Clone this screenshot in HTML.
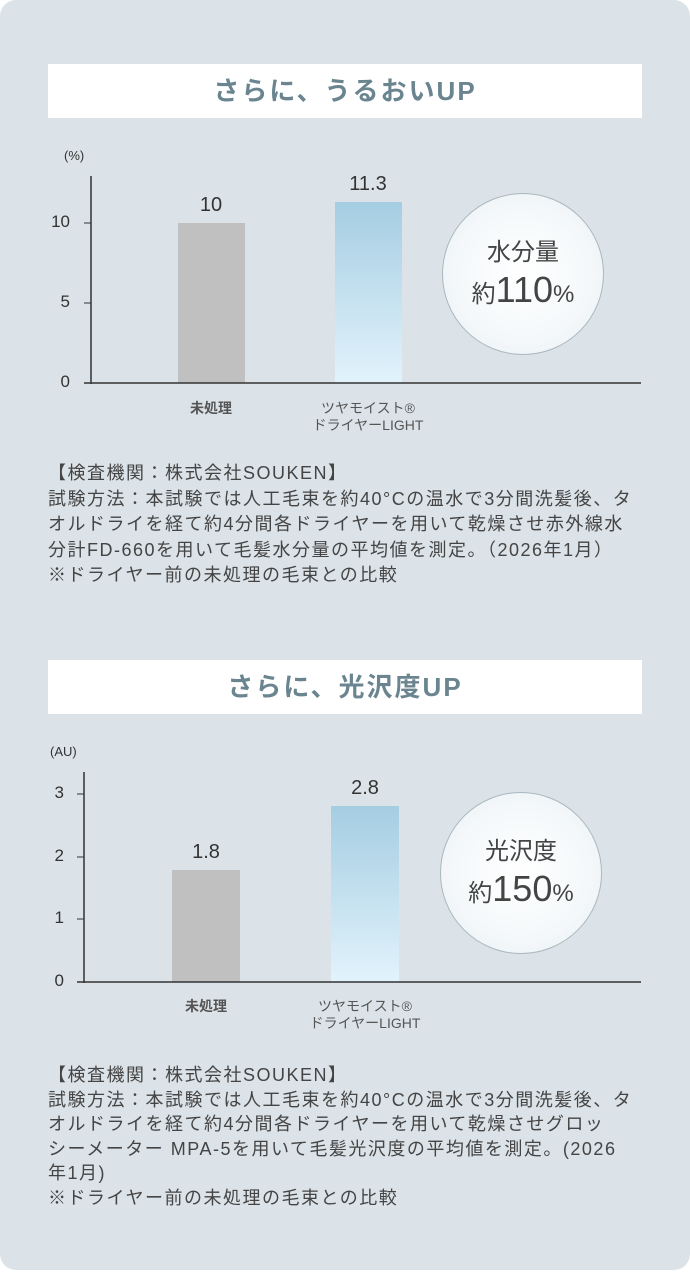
<!DOCTYPE html>
<html><head><meta charset="utf-8"><style>
body{margin:0;background:#fff;width:690px;height:1272px;position:relative;font-family:"Liberation Sans","Noto Sans CJK JP",sans-serif;overflow:hidden}
.card{position:absolute;left:0;top:0;width:690px;height:1270px;background:#dbe3e8;border-radius:16px}
.t{position:absolute;left:48px;width:594px;height:54px;background:#fff;color:#6b8590;font-size:26px;font-weight:bold;text-align:center;line-height:54px;letter-spacing:2px}
.a{position:absolute}
.lab{position:absolute;font-size:17px;color:#333;text-align:right;width:30px}
.v{position:absolute;font-size:20px;color:#333;text-align:center;width:100px}
.cat{position:absolute;font-size:14px;color:#555;text-align:center;width:160px;line-height:17px;font-weight:bold}
.note{position:absolute;left:48px;width:640px;font-size:18px;letter-spacing:1.5px;color:#444;line-height:25.5px;white-space:nowrap}
.c{position:absolute;width:160px;height:160px;border-radius:50%;background:radial-gradient(circle at 50% 50%,#fff 0%,#f4f8fa 60%,#e6edf1 100%);border:1px solid #aab8bf;color:#444;text-align:center}
</style></head><body>
<div class="card"></div>
<div class="t" style="top:64px">さらに、うるおいUP</div>
<div class="a" style="left:64px;top:148px;font-size:13px;color:#333">(%)</div>
<svg class="a" style="left:0;top:0" width="690" height="1272">
<defs><linearGradient id="g" x1="0" y1="0" x2="0" y2="1"><stop offset="0" stop-color="#a5cde2"/><stop offset="1" stop-color="#e2f3fc"/></linearGradient></defs>
<rect x="178" y="223" width="67" height="160" fill="#c0c0c0"/>
<rect x="335" y="202" width="67" height="181" fill="url(#g)"/>
<line x1="91" y1="176" x2="91" y2="384" stroke="#333" stroke-width="1.5"/>
<line x1="84" y1="383" x2="641" y2="383" stroke="#333" stroke-width="1.5"/>
<line x1="84" y1="223" x2="91" y2="223" stroke="#333"/><line x1="84" y1="303" x2="91" y2="303" stroke="#333"/>
<rect x="172" y="870" width="68" height="112" fill="#c0c0c0"/>
<rect x="331" y="806" width="68" height="176" fill="url(#g)"/>
<line x1="84" y1="772" x2="84" y2="983" stroke="#333" stroke-width="1.5"/>
<line x1="77" y1="982" x2="641" y2="982" stroke="#333" stroke-width="1.5"/>
<line x1="77" y1="794" x2="84" y2="794" stroke="#333"/><line x1="77" y1="857" x2="84" y2="857" stroke="#333"/><line x1="77" y1="919" x2="84" y2="919" stroke="#333"/>
</svg>
<div class="lab" style="left:40px;top:212px">10</div>
<div class="lab" style="left:40px;top:292px">5</div>
<div class="lab" style="left:40px;top:372px">0</div>
<div class="v" style="left:161px;top:194px">10</div>
<div class="v" style="left:318px;top:173px">11.3</div>
<div class="cat" style="left:131px;top:400px">未処理</div>
<div class="cat" style="left:288px;top:400px;font-weight:normal">ツヤモイスト®<br>ドライヤーLIGHT</div>
<div class="c" style="left:442px;top:193px"><div style="font-size:24px;margin-top:38px">水分量</div><div style="font-size:24px;margin-top:2px">約<span style="font-size:36px">110</span>%</div></div>
<div class="note" style="top:461px">【検査機関：株式会社SOUKEN】<br>試験方法：本試験では人工毛束を約40°Cの温水で3分間洗髪後、タ<br>オルドライを経て約4分間各ドライヤーを用いて乾燥させ赤外線水<br>分計FD-660を用いて毛髪水分量の平均値を測定。（2026年1月）<br>※ドライヤー前の未処理の毛束との比較</div>

<div class="t" style="top:660px">さらに、光沢度UP</div>
<div class="a" style="left:50px;top:744px;font-size:13px;color:#333">(AU)</div>
<div class="lab" style="left:34px;top:783px">3</div>
<div class="lab" style="left:34px;top:846px">2</div>
<div class="lab" style="left:34px;top:908px">1</div>
<div class="lab" style="left:34px;top:971px">0</div>
<div class="v" style="left:156px;top:841px">1.8</div>
<div class="v" style="left:315px;top:777px">2.8</div>
<div class="cat" style="left:126px;top:998px">未処理</div>
<div class="cat" style="left:285px;top:998px;font-weight:normal">ツヤモイスト®<br>ドライヤーLIGHT</div>
<div class="c" style="left:440px;top:792px"><div style="font-size:24px;margin-top:38px">光沢度</div><div style="font-size:24px;margin-top:2px">約<span style="font-size:36px">150</span>%</div></div>
<div class="note" style="top:1063px;line-height:24.5px">【検査機関：株式会社SOUKEN】<br>試験方法：本試験では人工毛束を約40°Cの温水で3分間洗髪後、タ<br>オルドライを経て約4分間各ドライヤーを用いて乾燥させグロッ<br>シーメーター MPA-5を用いて毛髪光沢度の平均値を測定。(2026<br>年1月)<br>※ドライヤー前の未処理の毛束との比較</div>
</body></html>
